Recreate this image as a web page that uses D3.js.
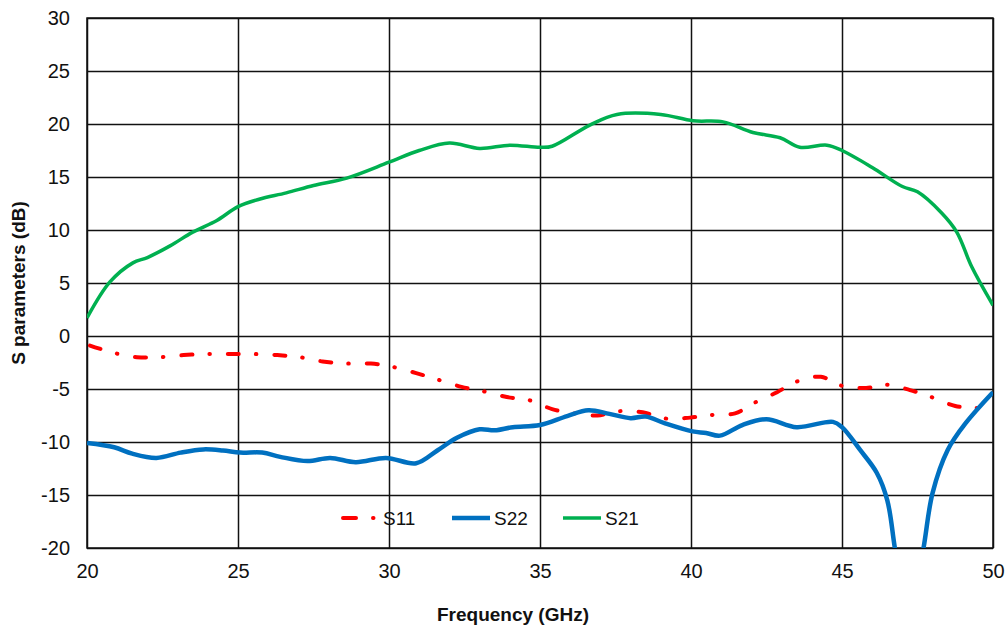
<!DOCTYPE html>
<html>
<head>
<meta charset="utf-8">
<script src="https://cdn.jsdelivr.net/npm/d3@7"></script>
<style>
  body { margin: 0; background: #fff; }
  svg { font-family: "Liberation Sans", Arial, sans-serif; }
  .tick text { font-size: 20px; fill: #111; }
</style>
</head>
<body>
<svg id="chart" width="1008" height="629"></svg>
<script>
// frequency in GHz, value in dB
const s21Freq = [20, 20.76, 21.52, 22.0, 22.75, 23.5, 24.3, 25.0, 25.7, 26.6, 27.5, 28.6, 30.0, 31.0, 32.0, 33.0, 34.0, 35.0, 35.4, 36.65, 37.55, 39.0, 40.07, 41.06, 42.05, 42.95, 43.6, 44.5, 45.0, 46.0, 47.0, 47.5, 48.3, 48.8, 49.3, 50.0];
const s21Val  = [1.7, 5.1, 6.9, 7.4, 8.5, 9.8, 10.9, 12.2, 12.9, 13.5, 14.2, 14.9, 16.4, 17.5, 18.2, 17.7, 18.0, 17.8, 17.9, 19.9, 20.9, 20.9, 20.3, 20.2, 19.2, 18.7, 17.8, 18.0, 17.5, 15.9, 14.1, 13.6, 11.6, 9.8, 6.5, 2.9];

const s11Freq = [20.1, 20.9, 21.65, 22.4, 23.2, 24.0, 24.7, 25.5, 26.3, 27.05, 27.8, 28.6, 29.4, 30.1, 30.9, 31.6, 32.4, 33.1, 33.9, 34.7, 35.4, 36.1, 36.9, 37.6, 38.4, 39.2, 39.97, 40.7, 41.46, 42.1, 42.85, 43.5, 44.3, 45.0, 45.8, 46.5, 47.25, 48.0, 48.75, 49.5, 50.0];
const s11Val  = [-0.9, -1.6, -2.0, -2.0, -1.8, -1.7, -1.7, -1.7, -1.8, -2.0, -2.4, -2.6, -2.6, -2.9, -3.5, -4.1, -4.8, -5.2, -5.75, -6.1, -6.9, -7.3, -7.5, -7.1, -7.2, -7.8, -7.7, -7.45, -7.3, -6.3, -5.3, -4.3, -3.85, -4.7, -4.9, -4.6, -5.1, -5.8, -6.6, -6.8, -6.6];

const s22Freq = [20, 20.9, 21.5, 22.3, 23.1, 23.85, 24.5, 25.07, 25.8, 26.4, 27.3, 28.05, 28.9, 29.9, 30.9, 31.6, 32.25, 33.0, 33.5, 34.1, 35.0, 35.9, 36.6, 37.3, 38.0, 38.5, 39.1, 40.05, 40.5, 40.96, 41.7, 42.5, 43.5, 44.7, 45.0, 45.6, 46.15, 46.5, 46.75, 47.2, 47.7, 48.0, 48.5, 49.1, 50.0];
const s22Val  = [-10.1, -10.5, -11.1, -11.5, -11.0, -10.7, -10.8, -11.0, -11.0, -11.4, -11.8, -11.5, -11.9, -11.5, -12.0, -10.8, -9.6, -8.8, -8.9, -8.6, -8.4, -7.55, -7.0, -7.35, -7.75, -7.6, -8.2, -9.0, -9.15, -9.4, -8.4, -7.85, -8.6, -8.1, -8.6, -10.75, -12.9, -15.5, -20, -28, -20, -14.8, -10.75, -8.2, -5.3];

const xTicks = [20, 25, 30, 35, 40, 45, 50];
const yTicks = [-20, -15, -10, -5, 0, 5, 10, 15, 20, 25, 30];

const margin = { top: 18, left: 87, right: 15, bottom: 81 };
const width = 1008 - margin.left - margin.right;
const height = 629 - margin.top - margin.bottom;

const svg = d3.select('#chart');
const g = svg.append('g').attr('transform', `translate(${margin.left},${margin.top})`);

const x = d3.scaleLinear().domain([20, 50]).range([0, width]);
const y = d3.scaleLinear().domain([-20, 30]).range([height, 0]);

// grid
g.append('g')
  .call(d3.axisBottom(x).tickValues(xTicks).tickSize(height).tickFormat(''))
  .call(a => a.select('.domain').remove())
  .selectAll('line').attr('stroke', '#111').attr('stroke-width', 1.5);
g.append('g')
  .call(d3.axisRight(y).tickValues(yTicks).tickSize(width).tickFormat(''))
  .call(a => a.select('.domain').remove())
  .selectAll('line').attr('stroke', '#111').attr('stroke-width', 1.5);

g.append('rect')
  .attr('width', width).attr('height', height)
  .attr('fill', 'none').attr('stroke', '#111').attr('stroke-width', 1.5);

// axis labels (plain hyphen for negatives, like the original)
const xAxis = g.append('g')
  .attr('transform', `translate(0,${height})`)
  .call(d3.axisBottom(x).tickValues(xTicks).tickSize(0).tickPadding(16).tickFormat(d => String(d)));
xAxis.select('.domain').remove();

const yAxis = g.append('g')
  .call(d3.axisLeft(y).tickValues(yTicks).tickSize(0).tickPadding(17).tickFormat(d => String(d)));
yAxis.select('.domain').remove();

svg.append('text')
  .attr('x', 513).attr('y', 621)
  .attr('text-anchor', 'middle')
  .style('font-size', '19px').style('font-weight', 'bold').attr('fill', '#111')
  .text('Frequency (GHz)');

svg.append('text')
  .attr('transform', 'translate(25,283) rotate(-90)')
  .attr('text-anchor', 'middle')
  .style('font-size', '19px').style('font-weight', 'bold').attr('fill', '#111')
  .text('S parameters (dB)');

// clip for series
svg.append('defs').append('clipPath').attr('id', 'plot-clip')
  .append('rect').attr('width', width).attr('height', height);

const line = d3.line()
  .x(d => x(d[0]))
  .y(d => y(d[1]))
  .curve(d3.curveCatmullRom.alpha(0.5));

const series = [
  { name: 'S11', freq: s11Freq, vals: s11Val, color: '#ff0000', w: 4, dash: '11,17,0.5,18' },
  { name: 'S22', freq: s22Freq, vals: s22Val, color: '#0070c0', w: 4.5, dash: null },
  { name: 'S21', freq: s21Freq, vals: s21Val, color: '#00b050', w: 3.5, dash: null }
];

const lines = g.append('g').attr('clip-path', 'url(#plot-clip)');
series.forEach(s => {
  const pts = s.freq.map((f, i) => [f, s.vals[i]]);
  lines.append('path')
    .datum(pts)
    .attr('d', line)
    .attr('fill', 'none')
    .attr('stroke', s.color)
    .attr('stroke-width', s.w)
    .attr('stroke-linecap', s.dash ? 'round' : 'butt')
    .attr('stroke-linejoin', 'round')
    .attr('stroke-dasharray', s.dash);
});

// legend
const legendX = [341, 452, 563];
const legend = svg.append('g');
series.forEach((s, i) => {
  const lx = legendX[i];
  legend.append('line')
    .attr('x1', lx + (s.dash ? 2 : 0)).attr('x2', lx + 38)
    .attr('y1', 518).attr('y2', 518)
    .attr('stroke', s.color)
    .attr('stroke-width', s.w)
    .attr('stroke-linecap', s.dash ? 'round' : 'butt')
    .attr('stroke-dasharray', s.dash ? '13,17,0.5,20' : null);
  legend.append('text')
    .attr('x', lx + 42).attr('y', 525)
    .style('font-size', '19px').attr('fill', '#111')
    .text(s.name);
});
</script>
</body>
</html>
